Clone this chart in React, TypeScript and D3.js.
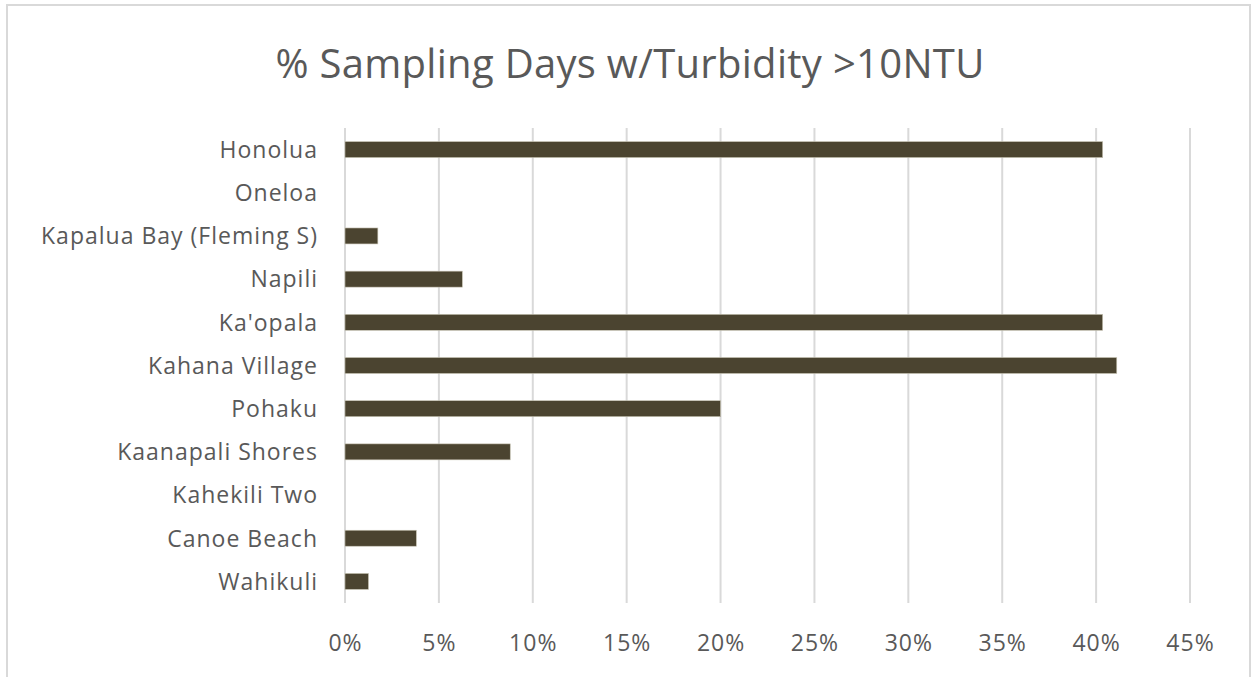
import React from "react";
import * as d3 from "d3";

const categories = [
  "Honolua",
  "Oneloa",
  "Kapalua Bay (Fleming S)",
  "Napili",
  "Ka'opala",
  "Kahana Village",
  "Pohaku",
  "Kaanapali Shores",
  "Kahekili Two",
  "Canoe Beach",
  "Wahikuli",
];

const values = [0.4035, 0, 0.0175, 0.0625, 0.4035, 0.411, 0.2, 0.088, 0, 0.038, 0.0125];

const ticks = [0, 0.05, 0.1, 0.15, 0.2, 0.25, 0.3, 0.35, 0.4, 0.45];

const title = "% Sampling Days w/Turbidity >10NTU";

const W = 1251;
const H = 677;
const FONT = "'Open Sans', sans-serif";
const TEXT = "#595959";
const GRID = "#d9d9d9";
const BAR = "#4b4430";

export default function App() {
  const x = d3.scaleLinear().domain([0, 0.45]).range([345, 1190]);
  const y = d3
    .scaleBand<string>()
    .domain(categories)
    .range([128, 603])
    .paddingInner(0.63)
    .paddingOuter(0.315);
  const fmt = d3.format(".0%");

  return (
    <div style={{ position: "absolute", left: 0, top: 0 }}>
      <svg width={W} height={H} style={{ display: "block", background: "#fff" }}>
        <rect x={7} y={5} width={1243} height={H + 10} fill="#fff" stroke={GRID} strokeWidth={2} />
        <text
          x={630}
          y={78}
          textAnchor="middle"
          fontFamily={FONT}
          fontSize={40}
          letterSpacing={0.3}
          fill={TEXT}
        >
          {title}
        </text>
        {ticks.map((t) => (
          <g key={t}>
            <line x1={x(t)} x2={x(t)} y1={128} y2={603} stroke={GRID} strokeWidth={2} />
            <text
              x={x(t) + 0.5}
              y={651}
              textAnchor="middle"
              fontFamily={FONT}
              fontSize={23}
              letterSpacing={1}
              fill={TEXT}
            >
              {fmt(t)}
            </text>
          </g>
        ))}
        {categories.map((c, i) => (
          <g key={c}>
            <text
              x={318}
              y={(y(c) as number) + y.bandwidth() / 2}
              dy="0.36em"
              textAnchor="end"
              fontFamily={FONT}
              fontSize={23}
              letterSpacing={1}
              fill={TEXT}
            >
              {c}
            </text>
            {values[i] > 0 && (
              <rect
                x={x(0)}
                y={y(c) as number}
                width={x(values[i]) - x(0)}
                height={y.bandwidth()}
                fill={BAR}
                stroke="#c9c5b5"
                strokeWidth={0.6}
              />
            )}
          </g>
        ))}
      </svg>
    </div>
  );
}
